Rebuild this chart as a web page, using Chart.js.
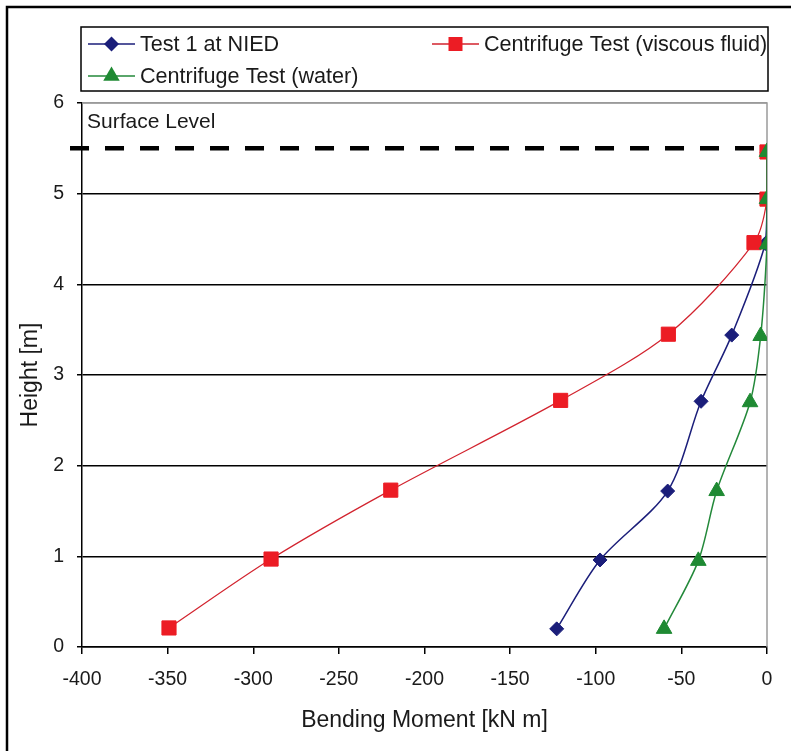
<!DOCTYPE html>
<html><head><meta charset="utf-8">
<script src="https://cdn.jsdelivr.net/npm/chart.js@4"></script>
<style>html,body{margin:0;padding:0;background:#fff}#wrap{width:791px;height:751px;position:relative}canvas{display:block}</style>
</head><body><div id="wrap"><canvas id="c" width="791" height="751"></canvas></div>
<script>
// ---- data ----
const seriesNames = ['Test 1 at NIED', 'Centrifuge Test (viscous fluid)', 'Centrifuge Test (water)'];
const niedMoment    = [-122.8, -97.5, -58.0, -38.5, -20.6, -1.0, 0, 0];
const niedHeight    = [0.20, 0.96, 1.72, 2.71, 3.44, 4.45, 4.93, 5.45];
const viscousMoment = [-349.2, -289.6, -219.7, -120.5, -57.6, -7.6, 0, 0];
const viscousHeight = [0.21, 0.97, 1.73, 2.72, 3.45, 4.46, 4.94, 5.46];
const waterMoment   = [-60.1, -40.1, -29.4, -9.9, -3.7, 0, 0, 0];
const waterHeight   = [0.20, 0.95, 1.72, 2.70, 3.43, 4.44, 4.94, 5.46];
const surfaceLevel = 5.5;
const surfaceLineFrom = -407;
const surfaceLineTo = 0;
const surfaceLabel = 'Surface Level';
const xAxisTitle = 'Bending Moment [kN m]';
const yAxisTitle = 'Height [m]';
const xRange = [-400, 0], xStep = 50;
const yRange = [0, 6], yStep = 1;

const FONT = '"Liberation Sans", Arial, Helvetica, sans-serif';
const colors = ['#1b1e7a', '#ec1c24', '#1f8a33'];
const lineColors = ['#1b1e7a', '#d2232e', '#23893a'];
const styles = ['rectRot', 'rect', 'triangle'];

const toPts = (xs, ys) => xs.map((x, i) => ({x: x, y: ys[i]}));

function drawMarker(ctx, style, x, y, color) {
  ctx.fillStyle = color;
  ctx.beginPath();
  if (style === 'rectRot') {
    const r = 7.5;
    ctx.moveTo(x, y - r); ctx.lineTo(x + r, y); ctx.lineTo(x, y + r); ctx.lineTo(x - r, y);
  } else if (style === 'rect') {
    ctx.rect(x - 7, y - 7, 14, 14);
  } else {
    const r = 9.5;
    ctx.moveTo(x, y - r); ctx.lineTo(x + r * 0.866, y + r * 0.5); ctx.lineTo(x - r * 0.866, y + r * 0.5);
  }
  ctx.closePath();
  ctx.fill();
}

const deco = {
  id: 'deco',
  beforeDraw(chart) {
    const ctx = chart.ctx;
    ctx.save();
    ctx.fillStyle = '#fff';
    ctx.fillRect(0, 0, chart.width, chart.height);
    ctx.restore();
  },
  beforeDatasetsDraw(chart) {
    const {ctx, chartArea: a} = chart;
    ctx.save();
    ctx.strokeStyle = '#9b9b9b';
    ctx.lineWidth = 1.5;
    ctx.beginPath();
    ctx.moveTo(a.left, a.top);
    ctx.lineTo(a.right, a.top);
    ctx.lineTo(a.right, a.bottom);
    ctx.stroke();
    ctx.fillStyle = '#1a1a1a';
    ctx.font = '21px ' + FONT;
    ctx.textBaseline = 'alphabetic';
    ctx.textAlign = 'left';
    ctx.fillText(surfaceLabel, a.left + 5, a.top + 25);
    ctx.restore();
  },
  afterDraw(chart) {
    const ctx = chart.ctx;
    ctx.save();
    // outer frame
    ctx.strokeStyle = '#000';
    ctx.lineWidth = 2.5;
    ctx.beginPath();
    ctx.moveTo(7, 760); ctx.lineTo(7, 7); ctx.lineTo(800, 7);
    ctx.stroke();
    // legend box
    ctx.lineWidth = 1.5;
    ctx.fillStyle = '#fff';
    ctx.fillRect(81, 27, 687, 64);
    ctx.strokeRect(81, 27, 687, 64);
    const items = [
      {i: 0, x: 88, y: 44},
      {i: 1, x: 432, y: 44},
      {i: 2, x: 88, y: 76}
    ];
    ctx.font = '21.6px ' + FONT;
    ctx.textBaseline = 'middle';
    ctx.textAlign = 'left';
    items.forEach(it => {
      ctx.strokeStyle = lineColors[it.i];
      ctx.lineWidth = 1.5;
      ctx.beginPath();
      ctx.moveTo(it.x, it.y); ctx.lineTo(it.x + 47, it.y);
      ctx.stroke();
      drawMarker(ctx, styles[it.i], it.x + 23.5, it.y, colors[it.i]);
      ctx.fillStyle = '#1a1a1a';
      ctx.fillText(seriesNames[it.i], it.x + 52, it.y + 1);
    });
    ctx.restore();
  }
};

const mk = (i, xs, ys, radius, order) => ({
  label: seriesNames[i],
  data: toPts(xs, ys),
  showLine: true,
  borderColor: lineColors[i],
  backgroundColor: colors[i],
  pointBackgroundColor: colors[i],
  pointBorderColor: colors[i],
  pointBorderWidth: 1,
  borderWidth: i === 1 ? 1.2 : 1.5,
  pointStyle: styles[i],
  pointRadius: radius,
  tension: 0.3,
  order: order
});

new Chart(document.getElementById('c'), {
  type: 'scatter',
  data: {
    datasets: [
      mk(0, niedMoment, niedHeight, 7, 3),
      mk(1, viscousMoment, viscousHeight, 10, 2),
      mk(2, waterMoment, waterHeight, 9, 1),
      {
        label: surfaceLabel,
        data: [{x: surfaceLineFrom, y: surfaceLevel}, {x: surfaceLineTo, y: surfaceLevel}],
        showLine: true, borderColor: '#000', borderWidth: 4.5, borderDash: [19, 16],
        pointRadius: 0, clip: false, order: 4
      }
    ]
  },
  options: {
    animation: false,
    responsive: false,
    devicePixelRatio: 1,
    layout: {padding: {top: 103, right: 24, left: 0, bottom: 0}},
    plugins: {legend: {display: false}, tooltip: {enabled: false}},
    scales: {
      x: {
        type: 'linear', min: xRange[0], max: xRange[1],
        ticks: {stepSize: xStep, color: '#1a1a1a', font: {size: 19.5, family: FONT}, padding: 14, maxRotation: 0},
        grid: {drawOnChartArea: false, drawTicks: true, tickLength: 7, color: '#000', lineWidth: 1.5},
        border: {color: '#000', width: 1.5},
        title: {display: true, text: xAxisTitle, color: '#1a1a1a', font: {size: 23, family: FONT}, padding: {top: 0, bottom: 17}},
        afterFit(s) { s.height = 104; }
      },
      y: {
        type: 'linear', min: yRange[0], max: yRange[1],
        ticks: {stepSize: yStep, color: '#1a1a1a', font: {size: 19.5, family: FONT}, padding: 13},
        grid: {color: c => (c.tick && c.tick.value === yRange[1]) ? '#9b9b9b' : '#000', lineWidth: 1.5, tickLength: 5, tickColor: '#000'},
        border: {color: '#000', width: 1.5},
        title: {display: true, text: yAxisTitle, color: '#1a1a1a', font: {size: 23, family: FONT}, padding: {top: 17, bottom: 0}},
        afterFit(s) { s.width = 82; }
      }
    }
  },
  plugins: [deco]
});
</script>
</body></html>
